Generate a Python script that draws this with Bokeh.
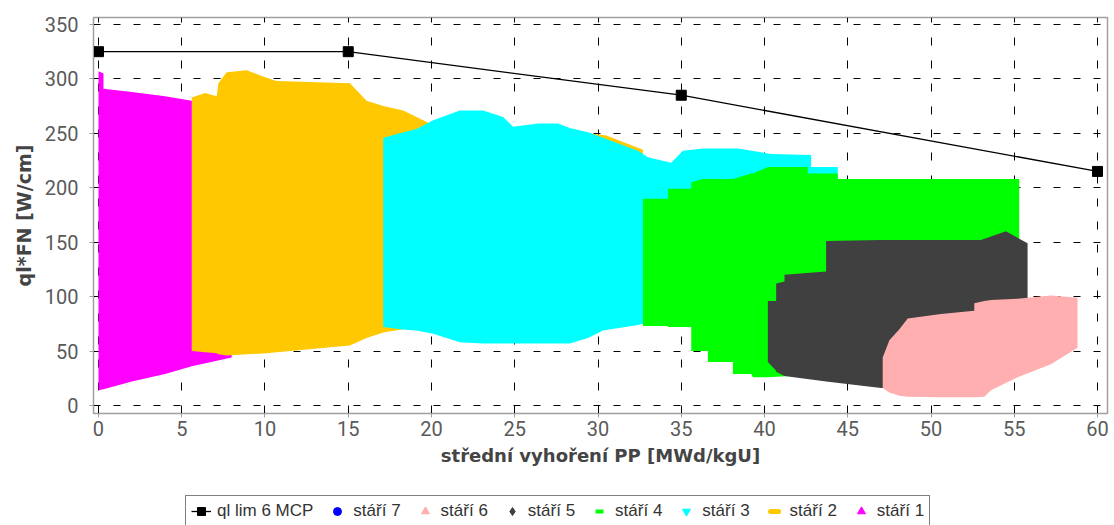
import math
from bokeh.plotting import figure
from bokeh.layouts import column
from bokeh.models import Range1d, Legend, LegendItem, FixedTicker
from bokeh.embed import file_html
from bokeh.resources import INLINE

# ---- data ----
lim_x = [0, 15, 35, 60]
lim_y = [325, 325, 285, 215]

# stáří 1 (magenta)
x1 = [0, 0.3, 0.3, 2.0, 4.0, 5.6, 8.0]
lo1 = [14, 15, 15, 22, 29, 36, 44]
hi1 = [307, 305, 291, 288, 284, 280, 276]

# stáří 2 (orange)
x2 = [5.6, 6.4, 7.1, 7.2, 7.7, 8.9, 10.1, 10.7, 15.1, 16.1, 17.1, 18.3, 19.9, 24.0, 29.4, 30.5, 31.5, 32.7]
hi2 = [283, 287, 284, 296, 306, 308, 301, 298, 296, 280, 275, 271, 259, 255, 250, 248, 242, 235]
lo2 = [50, 49, 48, 47, 46, 47, 48, 49, 55, 62, 67, 70, 72, 74, 75, 76, 77, 78]

# stáří 3 (cyan)
x3 = [17.1, 18.1, 19.1, 20.1, 21.7, 23.1, 24.3, 24.9, 26.4, 27.6, 28.3, 29.4, 30.3, 32.4, 33.0, 34.4, 35.1, 36.3, 38.4, 40.4, 42.8, 42.8, 44.4]
hi3 = [246, 250, 254, 262, 271, 271, 265, 256, 259, 259, 255, 251, 246, 234, 228, 223, 234, 236, 236, 231, 230, 219, 219]
lo3 = [72, 70, 69, 66, 58, 57, 57, 57, 57, 57, 57, 62, 69, 74, 76, 78, 80, 80, 80, 80, 80, 80, 80]

# stáří 4 (green)
x4 = [32.7, 34.2, 34.2, 35.6, 35.6, 36.3, 36.6, 36.6, 38.1, 38.1, 39.2, 39.3, 40.2, 42.6, 42.6, 44.4, 44.4, 55.3]
hi4 = [190, 190, 199, 199, 205, 208, 208, 208, 208, 208, 213, 213, 219, 219, 213, 213, 208, 208]
lo4 = [73, 73, 72, 72, 50, 50, 50, 40, 40, 29, 29, 26, 26, 28, 28, 28, 28, 28]

# stáří 5 (dark gray)
x5 = [40.2, 40.7, 40.7, 41.2, 41.2, 43.7, 43.7, 47.0, 53.0, 54.5, 55.8]
hi5 = [96, 96, 112, 114, 120, 123, 151, 152, 152, 160, 149]
lo5 = [40, 32, 31, 27, 27, 22, 22, 16, 18, 28, 60]

# stáří 6 (pink)
x6 = [47.1, 47.5, 48.1, 48.6, 50.6, 52.6, 52.6, 53.2, 53.6, 55.2, 57.2, 58.8]
hi6 = [44, 60, 70, 80, 84, 87, 94, 96, 97, 98, 101, 99]
lo6 = [16, 12, 9, 8, 7.5, 7.5, 7.5, 8, 14, 26, 38, 53]

x_ticks = [0, 5, 10, 15, 20, 25, 30, 35, 40, 45, 50, 55, 60]
y_ticks = [0, 50, 100, 150, 200, 250, 300, 350]
legend_labels = ["ql lim 6 MCP", "stáří 7", "stáří 6", "stáří 5", "stáří 4", "stáří 3", "stáří 2", "stáří 1"]

# ---- main figure ----
p = figure(frame_width=1014, frame_height=396,
           x_range=Range1d(-0.3, 60.6), y_range=Range1d(-7.35, 356.4),
           output_backend="svg", toolbar_location=None,
           min_border_left=93, min_border_right=5, min_border_top=17, min_border_bottom=70)

p.outline_line_color = "#a0a0a0"
p.outline_line_width = 1.5

p.xgrid.grid_line_color = "black"
p.xgrid.grid_line_dash = "8 15"
p.ygrid.grid_line_color = "black"
p.ygrid.grid_line_dash = "7 13"

for ax in (p.xaxis[0], p.yaxis[0]):
    ax.major_label_text_font = "Roboto"
    ax.major_label_text_font_size = "20px"
    ax.major_label_text_color = "#5a5a5a"
    ax.axis_label_text_font = "DejaVu Sans"
    ax.axis_label_text_font_style = "bold"
    ax.axis_label_text_font_size = "18px"
    ax.axis_label_text_color = "#444444"
    ax.axis_line_color = "#a0a0a0"
    ax.major_tick_line_color = "#a0a0a0"
    ax.major_tick_out = 4
    ax.major_tick_in = 0
    ax.minor_tick_line_color = None

p.yaxis.axis_label_text_font_size = "19px"
p.xaxis.ticker = FixedTicker(ticks=x_ticks)
p.yaxis.ticker = FixedTicker(ticks=y_ticks)
p.xaxis.axis_label = "střední vyhoření PP [MWd/kgU]"
p.yaxis.axis_label = "ql*FN [W/cm]"
p.xaxis.major_label_standoff = 3
p.xaxis.axis_label_standoff = 6
p.yaxis.major_label_standoff = 11
p.yaxis.axis_label_standoff = 7

# regions, bottom to top
series = [
    (x1, lo1, hi1, "#ff00ff"),
    (x2, lo2, hi2, "#ffc800"),
    (x3, lo3, hi3, "#00ffff"),
    (x4, lo4, hi4, "#00ff00"),
    (x5, lo5, hi5, "#404040"),
    (x6, lo6, hi6, "#ffafaf"),
]
for xs, lo, hi, col in series:
    p.varea(x=xs, y1=lo, y2=hi, fill_color=col)

p.line(lim_x, lim_y, line_color="black", line_width=1.3)
p.scatter(lim_x, lim_y, marker="square", size=10, color="black")

# ---- legend strip ----
q = figure(width=1112, height=42, x_range=Range1d(0, 1), y_range=Range1d(0, 1),
           x_axis_type=None, y_axis_type=None, output_backend="svg",
           toolbar_location=None, min_border=0)
q.outline_line_color = None
q.grid.visible = False

nan = float("nan")
def proxy(**kw):
    return q.scatter(x=[nan], y=[nan], **kw)

l0a = q.line(x=[nan], y=[nan], line_color="black", line_width=1.3)
l0b = proxy(marker="square", size=9, color="black")
r7 = proxy(marker="circle", size=8, color="#0000ff")
r6 = proxy(marker="triangle", size=10, color="#ffafaf")
r5 = proxy(marker="diamond", size=10, color="#404040")
r4 = proxy(marker="dash", size=10, line_width=4, line_color="#00ff00")
r3 = proxy(marker="inverted_triangle", size=10, color="#00ffff")
r2 = proxy(marker="dash", size=6, line_width=5, line_cap="round", line_color="#ffc800")
r1 = proxy(marker="triangle", size=10, angle=-math.pi / 2, color="#ff00ff")

rend = [[l0a, l0b], [r7], [r6], [r5], [r4], [r3], [r2], [r1]]
legend = Legend(items=[LegendItem(label=lab, renderers=rr) for lab, rr in zip(legend_labels, rend)],
                orientation="horizontal", location=(92, -2))
legend.label_text_font = "Liberation Sans"
legend.label_text_font_size = "17px"
legend.label_text_color = "#333333"
legend.border_line_color = "black"
legend.border_line_width = 1
legend.background_fill_color = "white"
legend.padding = 5
legend.margin = 0
legend.spacing = 14
legend.glyph_width = 20
legend.glyph_height = 20
legend.label_height = 20
legend.label_standoff = 6
q.add_layout(legend, "center")

layout = column(p, q, spacing=0)
open("out.html", "w").write(file_html(layout, INLINE))
